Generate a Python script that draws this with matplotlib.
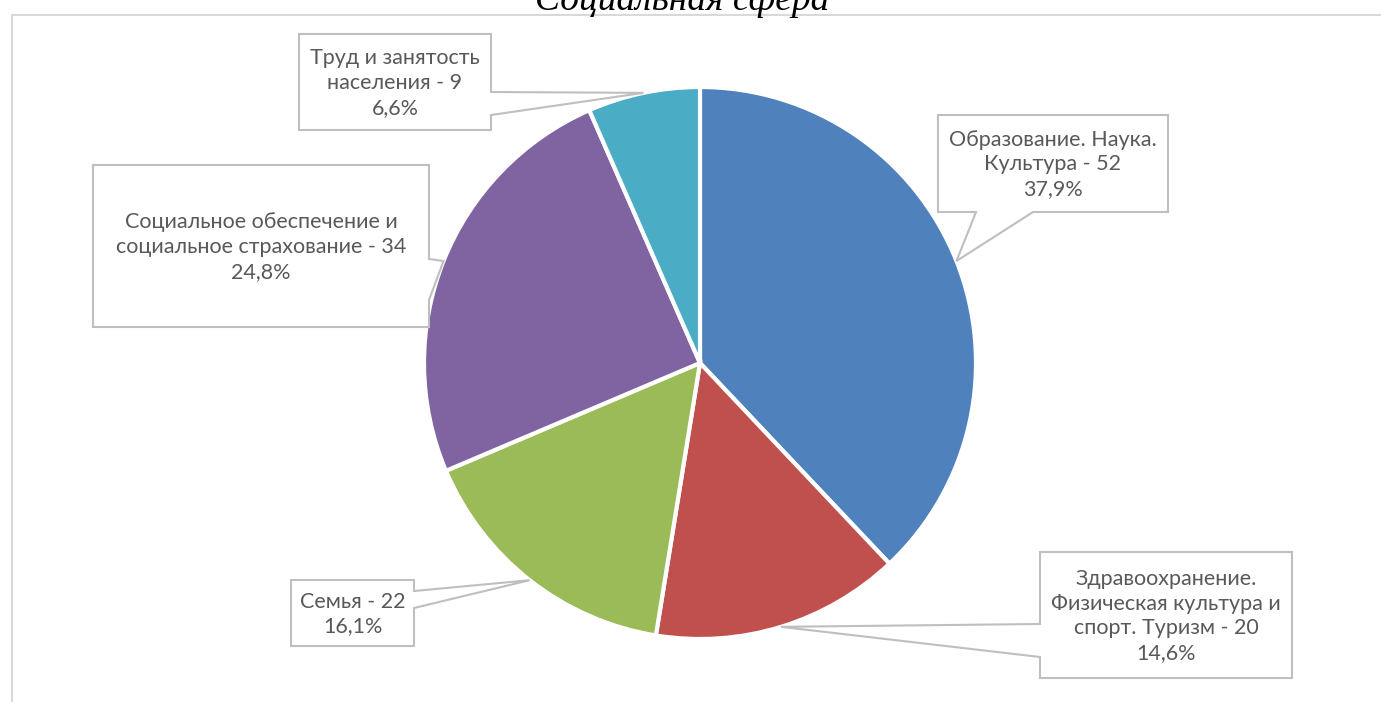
import numpy as np
import matplotlib.pyplot as plt
from matplotlib.patches import Polygon

# Data
categories = ['Образование. Наука.\nКультура',
              'Здравоохранение.\nФизическая культура и\nспорт. Туризм',
              'Семья',
              'Социальное обеспечение и\nсоциальное страхование',
              'Труд и занятость\nнаселения']
values = [52, 20, 22, 34, 9]
percents = ['37,9%', '14,6%', '16,1%', '24,8%', '6,6%']
colors = ['#4F81BD', '#C0504D', '#9BBB59', '#8064A2', '#4BACC6']
title = 'Социальная сфера'

# Layout (pixel coords, y downwards)
W, H = 1381, 702
CENTER = (700, 363)
RADIUS = 276
# box: (x0, y0, x1, y1), side of the pointer, pointer base positions on that side
boxes = [
    ((938, 115, 1168, 212), 'bottom', (1033, 976)),
    ((1040, 552, 1292, 678), 'left', (657, 624)),
    ((291, 580, 414, 646), 'right', (591, 608)),
    ((93, 165, 429, 327), 'right', (259, 300)),
    ((299, 34, 491, 130), 'right', (92, 115)),
]
TEXT_COLOR = '#595959'
LINE_COLOR = '#BFBFBF'


def callout_vertices(box, side, base, tip):
    x0, y0, x1, y1 = box
    pts = [(x0, y0), (x1, y0)]
    if side == 'right':
        pts += [(x1, base[0]), tip, (x1, base[1])]
    pts.append((x1, y1))
    if side == 'bottom':
        pts += [(base[0], y1), tip, (base[1], y1)]
    pts.append((x0, y1))
    if side == 'left':
        pts += [(x0, base[0]), tip, (x0, base[1])]
    return pts


def main():
    fig = plt.figure(figsize=(W / 100, H / 100), dpi=100)
    ax = fig.add_axes([0, 0, 1, 1])
    ax.set_xlim(0, W)
    ax.set_ylim(H, 0)
    ax.set_aspect('equal')
    ax.axis('off')

    # chart frame (cropped)
    ax.plot([12, 12, W + 5], [H + 5, 15, 15], color='#D9D9D9', lw=1.5)

    ax.text(682, 10, title, ha='center', va='baseline', fontsize=27,
            style='italic', family='Liberation Serif', color='black')

    # inverted y axis: counterclockwise in data = clockwise on screen
    wedges, _ = ax.pie(values, colors=colors, startangle=-90, counterclock=True,
                       center=CENTER, radius=RADIUS, frame=True,
                       wedgeprops=dict(edgecolor='white', linewidth=3))
    ax.set_xlim(0, W)
    ax.set_ylim(H, 0)
    ax.axis('off')

    for w, cat, val, pct, (box, side, base) in zip(wedges, categories, values,
                                                   percents, boxes):
        mid = np.deg2rad((w.theta1 + w.theta2) / 2)
        tip = (CENTER[0] + RADIUS * np.cos(mid), CENTER[1] + RADIUS * np.sin(mid))
        poly = Polygon(callout_vertices(box, side, base, tip), closed=True,
                       facecolor='white', edgecolor=LINE_COLOR, lw=1.5, zorder=5)
        ax.add_patch(poly)
        label = f'{cat} - {val}\n{pct}'
        ax.text((box[0] + box[2]) / 2, (box[1] + box[3]) / 2 + 1, label,
                ha='center', va='center', fontsize=15.5, family='Lato',
                color=TEXT_COLOR, linespacing=1.3, zorder=6)

    fig.savefig('out.png', dpi=100)


if __name__ == '__main__':
    main()
